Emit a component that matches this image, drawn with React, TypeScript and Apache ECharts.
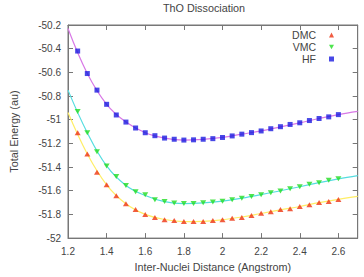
import React, { useEffect, useRef } from "react";
import * as echarts from "echarts";

// Inter-nuclear distances (Angstrom) of the computed points
const distances = [
  1.25, 1.3, 1.35, 1.4, 1.45, 1.5, 1.55, 1.6, 1.65, 1.7, 1.75, 1.8, 1.85, 1.9,
  1.95, 2.0, 2.05, 2.1, 2.15, 2.2, 2.25, 2.3, 2.35, 2.4, 2.45, 2.5, 2.55, 2.6,
];

// Total energies (au)
const dmcEnergy = [
  -51.11, -51.29, -51.443, -51.549, -51.643, -51.71, -51.758, -51.8, -51.827,
  -51.844, -51.852, -51.86, -51.86, -51.86, -51.852, -51.844, -51.833, -51.825,
  -51.809, -51.791, -51.777, -51.758, -51.752, -51.733, -51.719, -51.699,
  -51.691, -51.674,
];
const vmcEnergy = [
  -50.93, -51.11, -51.27, -51.39, -51.48, -51.555, -51.608, -51.633, -51.677,
  -51.691, -51.704, -51.708, -51.708, -51.702, -51.696, -51.688, -51.677,
  -51.663, -51.649, -51.633, -51.616, -51.602, -51.583, -51.566, -51.546,
  -51.532, -51.512, -51.499,
];
const hfEnergy = [
  -50.42, -50.61, -50.75, -50.87, -50.96, -51.02, -51.07, -51.11, -51.135,
  -51.155, -51.165, -51.172, -51.17, -51.165, -51.16, -51.15, -51.137, -51.122,
  -51.109, -51.095, -51.076, -51.059, -51.04, -51.026, -51.007, -50.99,
  -50.976, -50.957,
];

// Fitted curves, sampled every 0.1 Angstrom across the plotted range
const fitDistances = [
  1.2, 1.3, 1.4, 1.5, 1.6, 1.7, 1.8, 1.9, 2.0, 2.1, 2.2, 2.3, 2.4, 2.5, 2.6, 2.7,
];
const dmcFit = [
  -50.94, -51.29, -51.55, -51.71, -51.8, -51.843, -51.86, -51.858, -51.845,
  -51.822, -51.792, -51.762, -51.733, -51.701, -51.673, -51.648,
];
const vmcFit = [
  -50.75, -51.11, -51.39, -51.555, -51.64, -51.692, -51.708, -51.703, -51.688,
  -51.663, -51.633, -51.6, -51.566, -51.532, -51.5, -51.472,
];
const hfFit = [
  -50.23, -50.61, -50.87, -51.02, -51.11, -51.155, -51.172, -51.166, -51.15,
  -51.122, -51.094, -51.06, -51.026, -50.99, -50.957, -50.93,
];

const xTickLabels = ["1.2", "1.4", "1.6", "1.8", "2", "2.2", "2.4", "2.6"];

const FONT = "Liberation Sans";
const TEXT = "#444";
const FRAME = "#777";

const pairs = (xs: number[], ys: number[]) => xs.map((x, i) => [x, ys[i]]);

const DOWN_TRIANGLE = "path://M0,0 L10,0 L5,9 Z";

export default function App() {
  const ref = useRef<HTMLDivElement>(null);

  useEffect(() => {
    if (!ref.current) return;
    const chart = echarts.init(ref.current, null, { renderer: "svg" });

    const tickCommon = { inside: true, length: 5, lineStyle: { color: FRAME } };
    const label = { fontFamily: FONT, fontSize: 10, color: TEXT };
    const nameStyle = { fontFamily: FONT, fontSize: 10.8, color: TEXT };

    chart.setOption({
      animation: false,
      backgroundColor: "#fff",
      title: {
        text: "ThO Dissociation",
        left: 204,
        textAlign: "center",
        top: 2,
        padding: 0,
        textStyle: { ...nameStyle, fontWeight: "normal" },
      },
      legend: {
        data: ["DMC", "VMC", "HF"],
        orient: "vertical",
        align: "right",
        right: 30,
        top: 29,
        padding: 0,
        itemGap: 0,
        itemWidth: 5,
        itemHeight: 5,
        textStyle: { ...label, fontSize: 10.5, padding: [0, 8, 0, 0], lineHeight: 12 },
      },
      grid: {
        left: 50.7,
        right: 6.3,
        top: 25,
        bottom: 36.3,
        show: true,
        borderColor: FRAME,
        borderWidth: 1,
      },
      xAxis: [
        {
          type: "value",
          min: 1.2,
          max: 2.7,
          interval: 0.2,
          name: "Inter-Nuclei Distance (Angstrom)",
          nameLocation: "middle",
          nameGap: 22,
          nameTextStyle: nameStyle,
          axisLine: { show: true, lineStyle: { color: FRAME } },
          axisTick: tickCommon,
          splitLine: { show: false },
          axisLabel: {
            ...label,
            margin: 8,
            showMaxLabel: false,
            formatter: (v: number) => {
              const s = String(Math.round(v * 10) / 10);
              return xTickLabels.includes(s) ? s : "";
            },
          },
        },
        {
          type: "value",
          position: "top",
          min: 1.2,
          max: 2.7,
          interval: 0.2,
          axisLine: { show: true, lineStyle: { color: FRAME } },
          axisTick: tickCommon,
          axisLabel: { show: false },
          splitLine: { show: false },
        },
      ],
      yAxis: [
        {
          type: "value",
          min: -52,
          max: -50.2,
          interval: 0.2,
          name: "Total Energy (au)",
          nameLocation: "middle",
          nameGap: 49,
          nameTextStyle: nameStyle,
          axisLine: { show: true, lineStyle: { color: FRAME } },
          axisTick: tickCommon,
          splitLine: { show: false },
          axisLabel: { ...label, margin: 7 },
        },
        {
          type: "value",
          position: "right",
          min: -52,
          max: -50.2,
          interval: 0.2,
          axisLine: { show: true, lineStyle: { color: FRAME } },
          axisTick: tickCommon,
          axisLabel: { show: false },
          splitLine: { show: false },
        },
      ],
      series: [
        {
          name: "DMC fit",
          type: "line",
          data: pairs(fitDistances, dmcFit),
          smooth: 0.4,
          showSymbol: false,
          lineStyle: { color: "#ffee66", width: 1.2 },
          z: 1,
        },
        {
          name: "VMC fit",
          type: "line",
          data: pairs(fitDistances, vmcFit),
          smooth: 0.4,
          showSymbol: false,
          lineStyle: { color: "#55dde0", width: 1.2 },
          z: 1,
        },
        {
          name: "HF fit",
          type: "line",
          data: pairs(fitDistances, hfFit),
          smooth: 0.4,
          showSymbol: false,
          lineStyle: { color: "#d878e6", width: 1.2 },
          z: 1,
        },
        {
          name: "DMC",
          type: "scatter",
          data: pairs(distances, dmcEnergy),
          symbol: "triangle",
          symbolSize: [6, 5],
          itemStyle: { color: "#ee3311" },
          z: 3,
        },
        {
          name: "VMC",
          type: "scatter",
          data: pairs(distances, vmcEnergy),
          symbol: DOWN_TRIANGLE,
          symbolSize: [6, 5],
          itemStyle: { color: "#22dd22" },
          z: 3,
        },
        {
          name: "HF",
          type: "scatter",
          data: pairs(distances, hfEnergy),
          symbol: "rect",
          symbolSize: 5,
          itemStyle: { color: "#1a1ae0" },
          z: 3,
        },
      ],
    });

    return () => chart.dispose();
  }, []);

  return <div ref={ref} style={{ width: 364, height: 277, position: "fixed", left: 0, top: 0 }} />;
}
